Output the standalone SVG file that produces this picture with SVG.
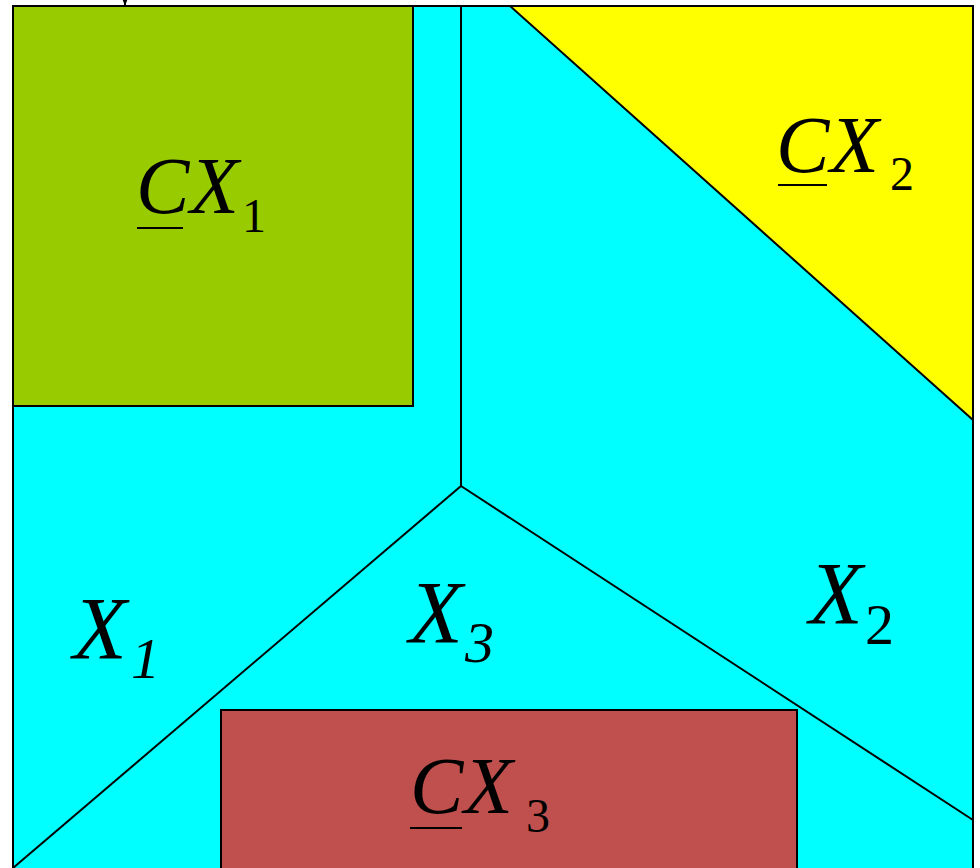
<svg xmlns="http://www.w3.org/2000/svg" width="980" height="868" viewBox="0 0 980 868">
<style>
.t{font-family:"Liberation Serif","Times New Roman",serif;fill:#000}
.it{font-style:italic}
.b{stroke:#000;stroke-width:2}
.ln{stroke:#000;stroke-width:2;fill:none}
</style>
<defs>
<marker id="ah" markerWidth="8" markerHeight="6" refX="8" refY="3" orient="auto" markerUnits="userSpaceOnUse">
<path d="M0,0 L8,3 L0,6 Z" fill="#000"/>
</marker>
</defs>
<rect width="980" height="868" fill="#fff"/>
<g id="region">
<rect x="13" y="6" width="960" height="870" fill="#00ffff" class="b"/>
</g>
<g id="CX2">
<polygon points="510,6 973,6 973,420" fill="#ffff00" class="b"/>
<text class="t it" x="776" y="172" font-size="80">C</text>
<line x1="778" y1="185" x2="827" y2="185" class="ln" stroke-width="3"/>
<text class="t it" x="830" y="172" font-size="80">X</text>
<text class="t" x="890" y="190" font-size="48">2</text>
</g>
<g id="CX1">
<rect x="13" y="6" width="400" height="400" fill="#99cc00" class="b"/>
<text class="t it" x="136" y="213" font-size="80">C</text>
<line x1="137" y1="228" x2="183" y2="228" class="ln" stroke-width="3"/>
<text class="t it" x="190" y="213" font-size="80">X</text>
<text class="t" x="242" y="232" font-size="48">1</text>
</g>
<g id="connectors">
<line x1="461" y1="6" x2="461" y2="486" class="ln"/>
<line x1="461" y1="486" x2="13" y2="868" class="ln"/>
<line x1="461" y1="486" x2="973" y2="820" class="ln"/>
<line x1="125" y1="-4" x2="125" y2="6" class="ln" stroke-width="1" marker-end="url(#ah)"/>
</g>
<g id="CX3">
<rect x="221" y="710" width="576" height="170" fill="#c0504d" class="b"/>
<text class="t it" x="410" y="813" font-size="80">C</text>
<line x1="410" y1="828" x2="462" y2="828" class="ln" stroke-width="3"/>
<text class="t it" x="464" y="813" font-size="80">X</text>
<text class="t" x="526" y="832" font-size="48">3</text>
</g>
<g id="X1">
<text class="t it" x="73" y="658" font-size="88">X</text>
<text class="t it" x="131" y="678" font-size="58">1</text>
</g>
<g id="X3">
<text class="t it" x="409" y="642" font-size="88">X</text>
<text class="t it" x="465" y="662" font-size="58">3</text>
</g>
<g id="X2">
<text class="t it" x="809" y="623" font-size="88">X</text>
<text class="t" x="865" y="644" font-size="58">2</text>
</g>
</svg>
